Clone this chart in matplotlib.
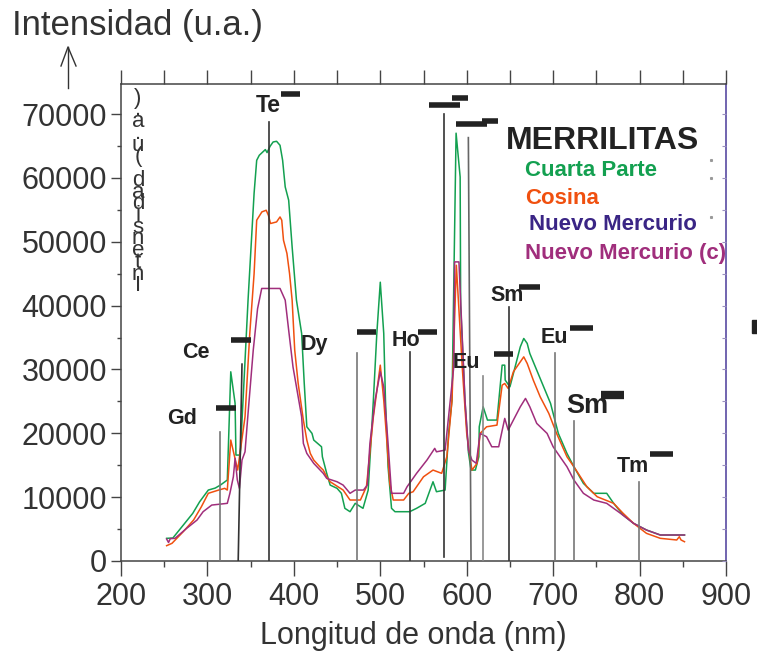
import matplotlib
matplotlib.use("Agg")
import matplotlib.pyplot as plt
from matplotlib.lines import Line2D
from matplotlib.patches import Rectangle
from matplotlib.ticker import MultipleLocator, NullFormatter

plt.rcParams['font.family'] = ['Liberation Sans', 'DejaVu Sans']

# === Datos ===
verde_x = [252.8, 260, 283, 291, 301, 309, 315, 323, 327, 332, 333, 338, 343, 347, 354, 357, 360, 367, 369,
           372.5, 376, 380, 384, 387, 390, 394, 398, 403, 409, 412, 415, 421, 423, 432, 433, 438, 442, 450,
           455, 459, 465, 471, 480, 486, 492, 496, 500, 504, 506, 509, 513, 517, 534, 542, 552, 561, 565,
           575, 579, 583, 587.7, 592.4, 593, 598, 602, 605, 610, 614, 614.5, 619, 624, 635, 641, 644, 644.5,
           650, 656, 662, 666, 670, 673, 681, 689, 697, 706, 716, 724, 735, 747, 762, 770, 781, 793, 808,
           824, 852]
verde_y = [3550, 3600, 7460, 9280, 11110, 11420, 11890, 12680, 29630, 24700, 16590, 16590, 30000, 40850,
           57600, 62750, 63540, 64430, 63960, 64950, 65620, 65730, 65100, 62750, 58580, 56500, 49190, 40850,
           35640, 27860, 21020, 19980, 18940, 17890, 16320, 13730, 11890, 11380, 10600, 8250, 7720, 9030,
           8250, 11110, 25200, 35640, 43660, 35640, 25200, 14760, 8250, 7720, 7720, 8250, 9030, 12410, 10850,
           11110, 19980, 25200, 67000, 60140, 40000, 25000, 17000, 14240, 14240, 16320, 21020, 24150, 22070,
           22070, 30670, 30670, 28330, 27280, 30400, 33540, 34850, 34070, 32500, 29890, 27280, 24680, 19980,
           16850, 14760, 12160, 10600, 10600, 9030, 7200, 5900, 4850, 4070, 4070]

naranja_x = [252.8, 259, 272, 284, 293, 301, 313, 320, 323, 327, 335, 343.5, 349, 354, 357, 363, 368, 370.5,
             373, 380, 384, 386, 388, 392, 395, 398, 401, 405, 411, 415, 419, 423, 430, 434, 438, 442, 457,
             465, 477, 484, 492, 500, 504, 507.5, 511, 515, 527, 533, 538, 546, 550, 561, 571, 577, 583, 588,
             595, 600, 606, 612, 615.5, 623, 635, 641, 644, 648, 654, 662, 666, 670, 677, 685, 695, 704, 716,
             724, 739, 751, 770, 781, 793, 808, 824, 843, 846, 848, 852]
naranja_y = [2400, 2770, 4590, 6420, 8500, 10600, 11110, 11380, 11110, 18940, 14240, 22580, 35640, 45000,
             53370, 54670, 54930, 54150, 52850, 53100, 53880, 53370, 50240, 48160, 45030, 40850, 33020, 27800,
             22070, 18940, 16850, 15810, 14760, 14240, 13190, 12410, 11110, 9550, 9550, 11630, 22580, 30670,
             25200, 18940, 12160, 9550, 9550, 10600, 10850, 12410, 13190, 14240, 13730, 16320, 25200, 46320,
             30000, 19980, 14240, 15290, 19980, 21020, 21280, 27540, 27800, 27020, 29630, 31190, 31970, 30930,
             28330, 25710, 23110, 19980, 16320, 14760, 11630, 10060, 9030, 7460, 5900, 4330, 3550, 3290, 3800,
             3290, 3020]

morado_x = [252.8, 255, 257, 262.5, 276, 288, 295, 305, 323, 326, 330, 332, 334.6, 337, 340, 343.5, 347, 353,
            358, 362.8, 384, 390, 394, 399, 403, 409, 411, 415, 423, 434, 438, 450, 457, 465, 471, 480.5, 485,
            488, 494, 500, 504, 509, 513, 527, 531, 542, 554, 563, 565, 575, 579, 585, 586, 591, 598, 602, 606,
            611, 615.5, 623, 629, 637, 644, 648, 654, 662, 668, 673, 681, 693, 700, 708, 716, 724, 735, 747,
            762, 778, 793, 808, 824, 852]
morado_y = [3440, 2900, 3500, 3550, 5120, 6420, 7720, 8760, 9030, 10600, 13190, 16070, 12680, 11380, 15810,
            17100, 23110, 33000, 39500, 42680, 42680, 40850, 36150, 30400, 27280, 22580, 18420, 16850, 15290,
            13730, 12940, 12410, 11890, 10600, 11110, 11110, 11890, 18420, 25200, 29630, 27280, 18420, 10600,
            10600, 11630, 13730, 15810, 17640, 17100, 17370, 22580, 30400, 46840, 46840, 25200, 17370, 15810,
            15290, 19980, 19460, 17890, 17890, 22330, 20500, 22070, 24150, 25460, 24150, 21550, 19980, 17890,
            16320, 14760, 12680, 10600, 9550, 9030, 7460, 5900, 4850, 4070, 4070]

series = ["Cuarta Parte", "Cosina", "Nuevo Mercurio", "Nuevo Mercurio (c)"]
colores = ["#13a050", "#f0500f", "#3a2585", "#a02e7c"]

# lineas de emision: (etiqueta, nm abajo, nm arriba, altura)
lineas = [("Gd", 314.6, 314.6, 20190), ("Ce", 335.6, 340.0, 30830), ("Te", 371.6, 371.6, 68750),
          ("Dy", 473.5, 473.5, 32600), ("Ho", 534.9, 534.9, 32700), ("", 574.0, 574.0, 69950),
          ("", 605.0, 601.9, 66300), ("Eu", 618.6, 618.6, 28950), ("Sm", 649.4, 649.4, 39750),
          ("Eu", 702.3, 702.3, 32600), ("Sm", 724.3, 724.3, 21910), ("Tm", 799.2, 799.2, 12410)]
lineas_base = [0, 0, 0, 0, 0, 630, 0, 0, 0, 0, 0, 0]
lineas_color = ["#777", "#333", "#333", "#777", "#333", "#333", "#666", "#888", "#333", "#777", "#777", "#777"]

# barras cortas: (nm inicio, nm fin, altura)
barras = [(310, 333, 23940), (327.3, 350.5, 34590), (385.2, 407.2, 73200), (473.1, 495.1, 35880),
          (543.8, 565.7, 35880), (556.5, 592.4, 71400), (583.1, 601.6, 72500), (587.7, 623.6, 68440),
          (617.8, 636.3, 68960), (631.7, 653.7, 32350), (660.6, 684.9, 42880), (719.7, 746.3, 36460),
          (755.6, 782.2, 25930), (812.3, 838.9, 16740)]
barras_grosor = [4, 4, 4, 4, 4, 4, 4, 4, 4, 4, 4, 4, 6, 4]

# etiquetas de elementos: (texto, nm, altura, tamano)
etiquetas = [("Gd", 270.6, 22380, 15.5), ("Ce", 286.8, 32700, 15.5), ("Te", 370, 71360, 16.5),
             ("Dy", 423.4, 33960, 15.5), ("Ho", 529.9, 34590, 15.5), ("Eu", 599.3, 31140, 15.5),
             ("Sm", 646.8, 41630, 15.5), ("Eu", 701.2, 35060, 15.5), ("Sm", 739.4, 24260, 19.5),
             ("Tm", 792.6, 14870, 15.5)]

W, H = 757, 657


def px(x, y):
    return x / W, 1 - y / H


fig = plt.figure(figsize=(W / 100, H / 100), dpi=100)
ax = fig.add_axes([121 / W, 1 - 561 / H, 605 / W, 477 / H])

ax.plot(verde_x, verde_y, color=colores[0], lw=1.1, zorder=3)
ax.plot(naranja_x, naranja_y, color=colores[1], lw=1.1, zorder=4)
ax.plot(morado_x, morado_y, color=colores[3], lw=1.1, zorder=5)

for (nombre, xa, xb, top), base, c in zip(lineas, lineas_base, lineas_color):
    ax.plot([xa, xb], [base, top], color=c, lw=1.2, zorder=6)

for (x0, x1, y), g in zip(barras, barras_grosor):
    ax.plot([x0, x1], [y, y], color="#222", lw=g, solid_capstyle="butt", zorder=7)

for txt, x, y, s in etiquetas:
    ax.text(x, y, txt, ha="center", va="center", fontsize=s, fontweight="bold", color="#222", zorder=8)

ax.set_xlim(200, 900)
ax.set_ylim(0, 74700)
ax.xaxis.set_major_locator(MultipleLocator(100))
ax.xaxis.set_minor_locator(MultipleLocator(50))
ax.yaxis.set_major_locator(MultipleLocator(10000))
ax.yaxis.set_minor_locator(MultipleLocator(5000))

ax.tick_params(axis="x", which="major", direction="out", length=11, width=1, color="#444",
               labelsize=22, labelcolor="#333", pad=4)
ax.tick_params(axis="x", which="minor", direction="out", length=4, width=1, color="#444")
ax.tick_params(axis="y", which="major", direction="out", length=7, width=1, color="#444",
               labelsize=22, labelcolor="#333", pad=3)
ax.tick_params(axis="y", which="minor", direction="out", length=3, width=1, color="#444")

for lado in ["left", "top", "bottom"]:
    ax.spines[lado].set_color("#444")
    ax.spines[lado].set_linewidth(1.1)
ax.spines["right"].set_color("#4a3a9a")
ax.spines["right"].set_linewidth(1.1)

# marcas de arriba (cada 50 nm, hacia fuera)
axt = ax.twiny()
axt.set_xlim(200, 900)
axt.xaxis.set_major_locator(MultipleLocator(50))
axt.xaxis.set_major_formatter(NullFormatter())
axt.tick_params(axis="x", direction="out", length=10, width=1, color="#444")
axt.set_frame_on(False)

# marcas de la derecha (hacia dentro)
axr = ax.twinx()
axr.set_ylim(0, 74700)
axr.yaxis.set_major_locator(MultipleLocator(5000))
axr.yaxis.set_major_formatter(NullFormatter())
axr.tick_params(axis="y", direction="in", length=3, width=0.8, color="#9a90c0")
axr.set_frame_on(False)

fig.text(*px(413, 636), "Longitud de onda (nm)", ha="center", va="center", fontsize=22, color="#333")

# leyenda como texto
fig.text(*px(603, 141), "MERRILITAS", ha="center", va="center", fontsize=23, fontweight="bold", color="#222")
ley_y = [170, 198, 224, 253]
ley_x = [525, 525, 529, 525]
for nombre, c, yy, xx in zip(series, colores, ley_y, ley_x):
    fig.text(*px(xx, yy), nombre, ha="left", va="center", fontsize=16, fontweight="bold", color=c)

# titulo del eje y arriba a la izquierda
fig.text(*px(12, 25), "Intensidad (u.a.)", ha="left", va="center", fontsize=25, color="#333")
fig.add_artist(Line2D([68 / W, 68 / W], [1 - 88 / H, 1 - 47 / H], transform=fig.transFigure,
                      color="#333", lw=1))
fig.add_artist(Line2D([61 / W, 68 / W, 76 / W], [1 - 66 / H, 1 - 47 / H, 1 - 66 / H],
                      transform=fig.transFigure, color="#333", lw=1))

# texto vertical apilado
letras = "Intensidad (u.a.)"
fig.text(*px(138, 192), "\n".join(reversed(letras)), ha="center", va="center", fontsize=16,
         color="#333", linespacing=0.42)

# marcas sueltas
fig.add_artist(Rectangle(px(752, 333), 5 / W, 13 / H, transform=fig.transFigure, color="#222"))
for yy in [160, 178, 217]:
    fig.add_artist(Line2D([711 / W], [1 - yy / H], transform=fig.transFigure, marker="s",
                          markersize=1.2, color="#999", lw=0))

fig.savefig("out.png", dpi=100)
